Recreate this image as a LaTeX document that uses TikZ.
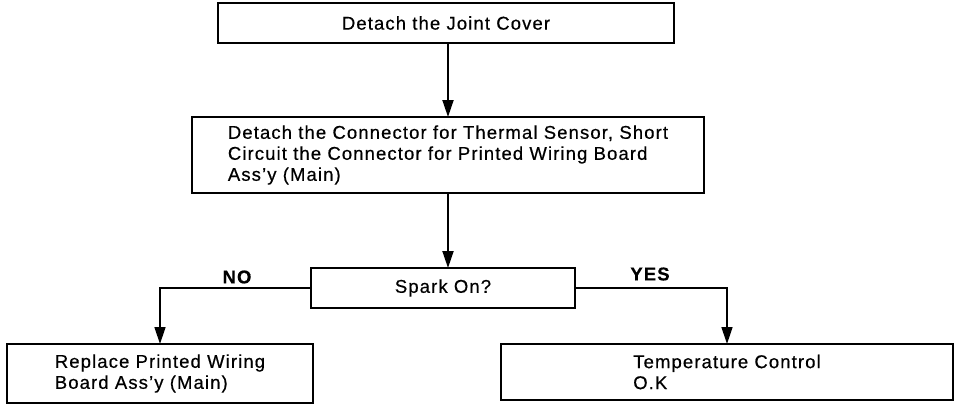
\documentclass[tikz,border=0pt]{standalone}
\usepackage{fontspec}
\setmainfont{Liberation Sans}[LetterSpace=6, FakeBold=0.5]
\usetikzlibrary{arrows.meta}
\tikzset{
  fc chart/.style={x=1pt, y=-1pt, font=\fontsize{18.5pt}{21pt}\selectfont,
    line join=miter},
  fc box/.style={draw, line width=2.8pt, inner sep=0pt, outer sep=0pt,
    align=left},
  fc arrow/.style={-{Triangle[length=17pt, width=11pt]}, line width=1.9pt},
  fc branch/.style={fc arrow, line width=1.4pt},
  fc label/.style={font=\fontsize{18.5pt}{21pt}\selectfont\bfseries, inner sep=0pt}
}

\begin{document}
\begin{tikzpicture}[fc chart]
\useasboundingbox (0,0) rectangle (956,413);
\node[fc box, minimum width=456, minimum height=40] (cover) at (446,23) {Detach the Joint Cover};
\node[fc box, minimum width=512, minimum height=76] (short) at (448,155)
  {Detach the Connector for Thermal Sensor, Short\\Circuit the Connector for Printed Wiring Board\\Ass'y (Main)};
\node[fc box, minimum width=264, minimum height=40] (spark) at (443,288) {Spark On?};
\node[fc box, minimum width=306, minimum height=59] (replace) at (160,373.5)
  {Replace Printed Wiring\\Board Ass'y (Main)};
\node[fc box, minimum width=452, minimum height=56] (okay) at (727,372)
  {Temperature Control\\O.K};
\draw[fc arrow] (cover.south -| short) -- (short.north);
\draw[fc arrow] (short.south) -- (short.south |- spark.north);
\draw[fc branch] (spark.west) -| (replace.north);
\draw[fc branch] (spark.east) -| (okay.north);
\node[fc label] (no) at (237,277) {NO};
\node[fc label] (yes) at (650,274) {YES};
\end{tikzpicture}
\end{document}
